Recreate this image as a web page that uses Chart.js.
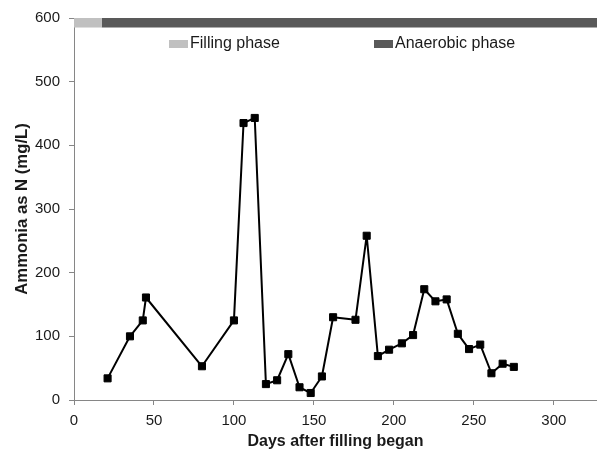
<!DOCTYPE html>
<html>
<head>
<meta charset="utf-8">
<script src="https://cdn.jsdelivr.net/npm/chart.js@4/dist/chart.umd.min.js"></script>
<style>
  html, body { margin: 0; padding: 0; background: #fff; }
  #wrap { width: 597px; height: 454px; }
</style>
</head>
<body>
<div id="wrap"><canvas id="ammoniaChart" width="597" height="454"></canvas></div>
<script>
// Sampling days and measured ammonia (as N, mg/L)
const days = [21, 35, 43, 45, 80, 100, 106, 113, 120, 127, 134, 141, 148, 155, 162,
              176, 183, 190, 197, 205, 212, 219, 226, 233, 240, 247, 254, 261, 268, 275];
const ammonia = [34, 100, 125, 161, 53, 125, 435, 443, 25, 31, 72, 20, 11, 37, 130,
                 126, 258, 69, 79, 89, 102, 174, 155, 158, 104, 80, 87, 42, 57, 52];

// Phase band along the top of the plot
const phaseNames = ['Filling phase', 'Anaerobic phase'];
const phaseStart = [0, 17.3];
const phaseEnd = [17.3, 327];
const phaseColors = ['#c0c0c0', '#595959'];
const bandLevel = 592.5;

const xTicks = [0, 50, 100, 150, 200, 250, 300];
const yTicks = [0, 100, 200, 300, 400, 500, 600];

const FONT = "'Liberation Sans', Arial, sans-serif";

const phaseSets = phaseNames.map((name, i) => ({
    label: name,
    data: [{ x: phaseStart[i], y: bandLevel }, { x: phaseEnd[i], y: bandLevel }],
    borderColor: phaseColors[i],
    backgroundColor: phaseColors[i],
    borderWidth: 9.5,
    borderCapStyle: 'butt',
    pointRadius: 0,
    order: 2
}));

// Legend drawn inside the plot area, just under the band
const phaseLegend = {
    id: 'phaseLegend',
    afterDraw(chart) {
        const { ctx, chartArea } = chart;
        const offsets = [95, 300];
        const cy = chartArea.top + 26;
        ctx.save();
        ctx.font = '16px ' + FONT;
        ctx.textBaseline = 'middle';
        phaseNames.forEach((name, i) => {
            const x = chartArea.left + offsets[i];
            ctx.fillStyle = phaseColors[i];
            ctx.fillRect(x, cy - 4, 19, 8);
            ctx.fillStyle = '#1a1a1a';
            ctx.fillText(name, x + 21, cy);
        });
        ctx.restore();
    }
};

new Chart(document.getElementById('ammoniaChart'), {
    type: 'line',
    data: {
        datasets: [{
            label: 'Ammonia',
            data: days.map((d, i) => ({ x: d, y: ammonia[i] })),
            borderColor: '#000',
            backgroundColor: '#000',
            borderWidth: 2,
            borderJoinStyle: 'round',
            tension: 0,
            pointStyle: 'rect',
            pointRadius: 5,
            pointBorderWidth: 1,
            pointBackgroundColor: '#000',
            pointBorderColor: '#000',
            order: 1
        }, ...phaseSets]
    },
    options: {
        responsive: false,
        animation: false,
        layout: { autoPadding: false, padding: { top: 18, left: 0, right: 0, bottom: 0 } },
        plugins: {
            legend: { display: false },
            tooltip: { enabled: false }
        },
        scales: {
            x: {
                type: 'linear',
                min: 0,
                max: 327,
                afterFit: s => { s.height = 54; },
                afterBuildTicks: s => { s.ticks = xTicks.map(v => ({ value: v })); },
                grid: { drawOnChartArea: false, tickLength: 5, color: '#868686' },
                border: { color: '#868686', width: 1 },
                ticks: { padding: 7, color: '#1a1a1a', font: { family: FONT, size: 15 } },
                title: {
                    display: true,
                    text: 'Days after filling began',
                    color: '#1a1a1a',
                    padding: { top: 3, bottom: 3 },
                    font: { family: FONT, size: 16, weight: 'bold' }
                }
            },
            y: {
                min: 0,
                max: 600,
                afterFit: s => { s.width = 74; },
                afterBuildTicks: s => { s.ticks = yTicks.map(v => ({ value: v })); },
                grid: { drawOnChartArea: false, tickLength: 5, color: '#868686' },
                border: { color: '#868686', width: 1 },
                ticks: { padding: 9, color: '#1a1a1a', font: { family: FONT, size: 15 } },
                title: {
                    display: true,
                    text: 'Ammonia as N (mg/L)',
                    color: '#1a1a1a',
                    padding: { top: 12, bottom: 3 },
                    font: { family: FONT, size: 16.7, weight: 'bold' }
                }
            }
        }
    },
    plugins: [phaseLegend]
});
</script>
</body>
</html>
